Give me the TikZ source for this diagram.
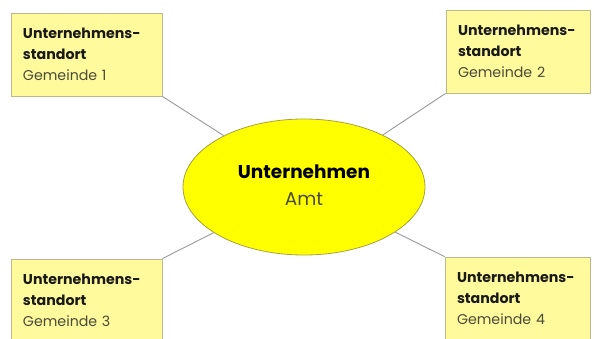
\documentclass[tikz,border=0pt]{standalone}
\usepackage{fontspec}
\setmainfont{Poppins}
\usetikzlibrary{shapes.geometric}
\definecolor{boxfill}{HTML}{FFFA9C}
\definecolor{boxline}{HTML}{BFB88A}
\definecolor{ellfill}{HTML}{FFFF00}
\definecolor{ellline}{HTML}{A8A040}
\definecolor{conn}{HTML}{9A9A9A}
\definecolor{subtxt}{HTML}{4A4A3A}
\tikzset{
  sitebox/.style={draw=boxline, line width=0.8pt, fill=boxfill, rectangle,
    minimum height=83pt, inner xsep=12pt, align=left,
    font=\fontsize{14.2}{21}\selectfont, text=black!90},
  centre/.style={draw=ellline, line width=0.8pt, fill=ellfill, ellipse,
    minimum width=242pt, minimum height=136pt, align=center,
    font=\fontsize{18.5}{27}\selectfont},
  link/.style={draw=conn, line width=0.9pt}
}
\begin{document}
\begin{tikzpicture}[x=1pt,y=1pt]
\clip (0,0) rectangle (594,338);
\fill[white] (0,0) rectangle (594,338);
\node[centre] (e) at (304,151)
  {\raisebox{5pt}{\begin{tabular}{@{}c@{}}\textbf{Unternehmen}\\{\color{subtxt}Amt}\end{tabular}}};
\node[sitebox, minimum width=151pt, text width=127pt] (b1) at (86.5,283.5)
  {\textbf{Unternehmens-}\\\textbf{standort}\\{\color{subtxt}Gemeinde 1}};
\node[sitebox, minimum width=144pt, text width=120pt] (b2) at (518,286.5)
  {\textbf{Unternehmens-}\\\textbf{standort}\\{\color{subtxt}Gemeinde 2}};
\node[sitebox, minimum width=151pt, text width=127pt] (b3) at (86.5,37.5)
  {\textbf{Unternehmens-}\\\textbf{standort}\\{\color{subtxt}Gemeinde 3}};
\node[sitebox, minimum width=145pt, text width=121pt] (b4) at (517.5,39.5)
  {\textbf{Unternehmens-}\\\textbf{standort}\\{\color{subtxt}Gemeinde 4}};
\draw[link] (b1.south east) -- (e);
\draw[link] (b2.south west) -- (e);
\draw[link] (b3.north east) -- (e);
\draw[link] (b4.north west) -- (e);
\end{tikzpicture}
\end{document}
